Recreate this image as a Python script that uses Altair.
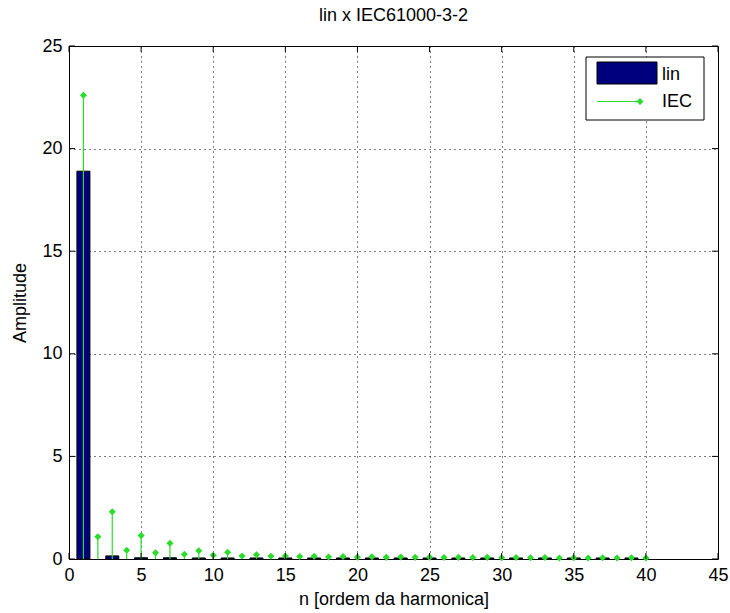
import altair as alt
import pandas as pd

# ---- data ----
harmonics = list(range(1, 41))
iec_limits = [22.6, 1.08, 2.30, 0.43, 1.14, 0.30, 0.77, 0.23, 0.40, 0.18,
              0.33, 0.15, 0.21, 0.13, 0.15, 0.12, 0.13, 0.10, 0.12, 0.09,
              0.11, 0.08, 0.10, 0.08, 0.09, 0.07, 0.08, 0.07, 0.08, 0.06,
              0.07, 0.06, 0.07, 0.05, 0.06, 0.05, 0.06, 0.05, 0.06, 0.05]
lin_values = [18.9, 0.0, 0.15, 0.0, 0.06, 0.0, 0.06, 0.0, 0.05, 0.0,
              0.05, 0.0, 0.05, 0.0, 0.05, 0.0, 0.05, 0.0, 0.05, 0.0,
              0.05, 0.0, 0.05, 0.0, 0.05, 0.0, 0.05, 0.0, 0.05, 0.0,
              0.05, 0.0, 0.05, 0.0, 0.05, 0.0, 0.05, 0.0, 0.05, 0.0]
x_ticks = [0, 5, 10, 15, 20, 25, 30, 35, 40, 45]
y_ticks = [0, 5, 10, 15, 20, 25]
legend_labels = ["lin", "IEC"]

W, H = 649, 513
FONT = "Liberation Sans"
FS = 18
NAVY = "#00007f"
GREEN = "#2bdc2b"

df = pd.DataFrame({"n": harmonics, "iec": iec_limits, "lin": lin_values})
df_bars = df[df["lin"] > 0]

xs = alt.Scale(domain=[0, 45], nice=False, zero=False)
ys = alt.Scale(domain=[0, 25], nice=False)

x_axis = alt.Axis(values=x_ticks, title="n [ordem da harmonica]", grid=True,
                  ticks=False, domain=False, labelPadding=7, titlePadding=6,
                  labelFlush=False)
y_axis = alt.Axis(values=y_ticks, title="Amplitude", grid=True, ticks=False,
                  domain=False, labelPadding=7, titlePadding=12,
                  labelFlush=False)

base = alt.Chart(df)

bars = alt.Chart(df_bars).transform_calculate(
    x0="datum.n - 0.45", x1="datum.n + 0.45"
).mark_rect(fill=NAVY, stroke="black", strokeWidth=1).encode(
    x=alt.X("x0:Q", scale=xs, axis=x_axis),
    x2="x1:Q",
    y=alt.Y("lin:Q", scale=ys, axis=y_axis),
    y2=alt.datum(0),
)

stems = base.mark_rule(color=GREEN, strokeWidth=1.2).encode(
    x=alt.X("n:Q", scale=xs),
    y=alt.Y("iec:Q", scale=ys),
    y2=alt.datum(0),
)

points = base.mark_point(shape="diamond", filled=True, color=GREEN, size=50,
                         opacity=1).encode(
    x=alt.X("n:Q", scale=xs),
    y=alt.Y("iec:Q", scale=ys),
)

# inward tick marks on all four sides
tx = pd.DataFrame({"t": x_ticks})
ty = pd.DataFrame({"t": y_ticks})
tick_bottom = alt.Chart(tx).mark_rule(color="black").encode(
    x=alt.X("t:Q", scale=xs), y=alt.value(H), y2=alt.value(H - 6))
tick_top = alt.Chart(tx).mark_rule(color="black").encode(
    x=alt.X("t:Q", scale=xs), y=alt.value(0), y2=alt.value(6))
tick_left = alt.Chart(ty).mark_rule(color="black").encode(
    y=alt.Y("t:Q", scale=ys), x=alt.value(0), x2=alt.value(6))
tick_right = alt.Chart(ty).mark_rule(color="black").encode(
    y=alt.Y("t:Q", scale=ys), x=alt.value(W), x2=alt.value(W - 6))

# legend box (MATLAB style)
leg = pd.DataFrame({"label": legend_labels})
leg_box = alt.Chart(leg).transform_filter("datum.label == 'lin'").mark_rect(
    fill="white", stroke="black", strokeWidth=1).encode(
    x=alt.value(517), x2=alt.value(635), y=alt.value(11), y2=alt.value(74))
leg_rect = alt.Chart(leg).transform_filter("datum.label == 'lin'").mark_rect(
    fill=NAVY, stroke="black", strokeWidth=1).encode(
    x=alt.value(528), x2=alt.value(588), y=alt.value(16), y2=alt.value(38))
leg_line = alt.Chart(leg).transform_filter("datum.label == 'IEC'").mark_rule(
    color=GREEN, strokeWidth=1.2).encode(
    x=alt.value(528), x2=alt.value(571), y=alt.value(55.5))
leg_pt = alt.Chart(leg).transform_filter("datum.label == 'IEC'").mark_point(
    shape="diamond", filled=True, color=GREEN, size=50, opacity=1).encode(
    x=alt.value(571), y=alt.value(55.5))
leg_text = alt.Chart(leg).transform_calculate(
    yy="datum.label == 'lin' ? 29 : 56"
).mark_text(align="left", baseline="middle", font=FONT, fontSize=FS,
            color="black").encode(
    x=alt.value(593), y=alt.Y("yy:Q", scale=None), text="label:N")

chart = alt.layer(
    bars, stems, points,
    tick_bottom, tick_top, tick_left, tick_right,
    leg_box, leg_rect, leg_line, leg_pt, leg_text,
).properties(
    width=W, height=H,
    title=alt.TitleParams("lin x IEC61000-3-2", font=FONT, fontSize=FS,
                          fontWeight="normal", color="black", frame="group",
                          anchor="middle", offset=12),
    padding={"left": 69, "top": 46, "right": 12, "bottom": 54},
    autosize=alt.AutoSizeParams(type="none"),
    background="white",
).configure_view(
    stroke="black", strokeWidth=1
).configure_axis(
    labelFont=FONT, labelFontSize=FS, labelColor="black",
    titleFont=FONT, titleFontSize=FS, titleFontWeight="normal",
    titleColor="black",
    gridColor="black", gridOpacity=1, gridDash=[1, 4], gridWidth=1,
)

chart.save("out.html", embed_options={"renderer": "svg", "actions": False})
